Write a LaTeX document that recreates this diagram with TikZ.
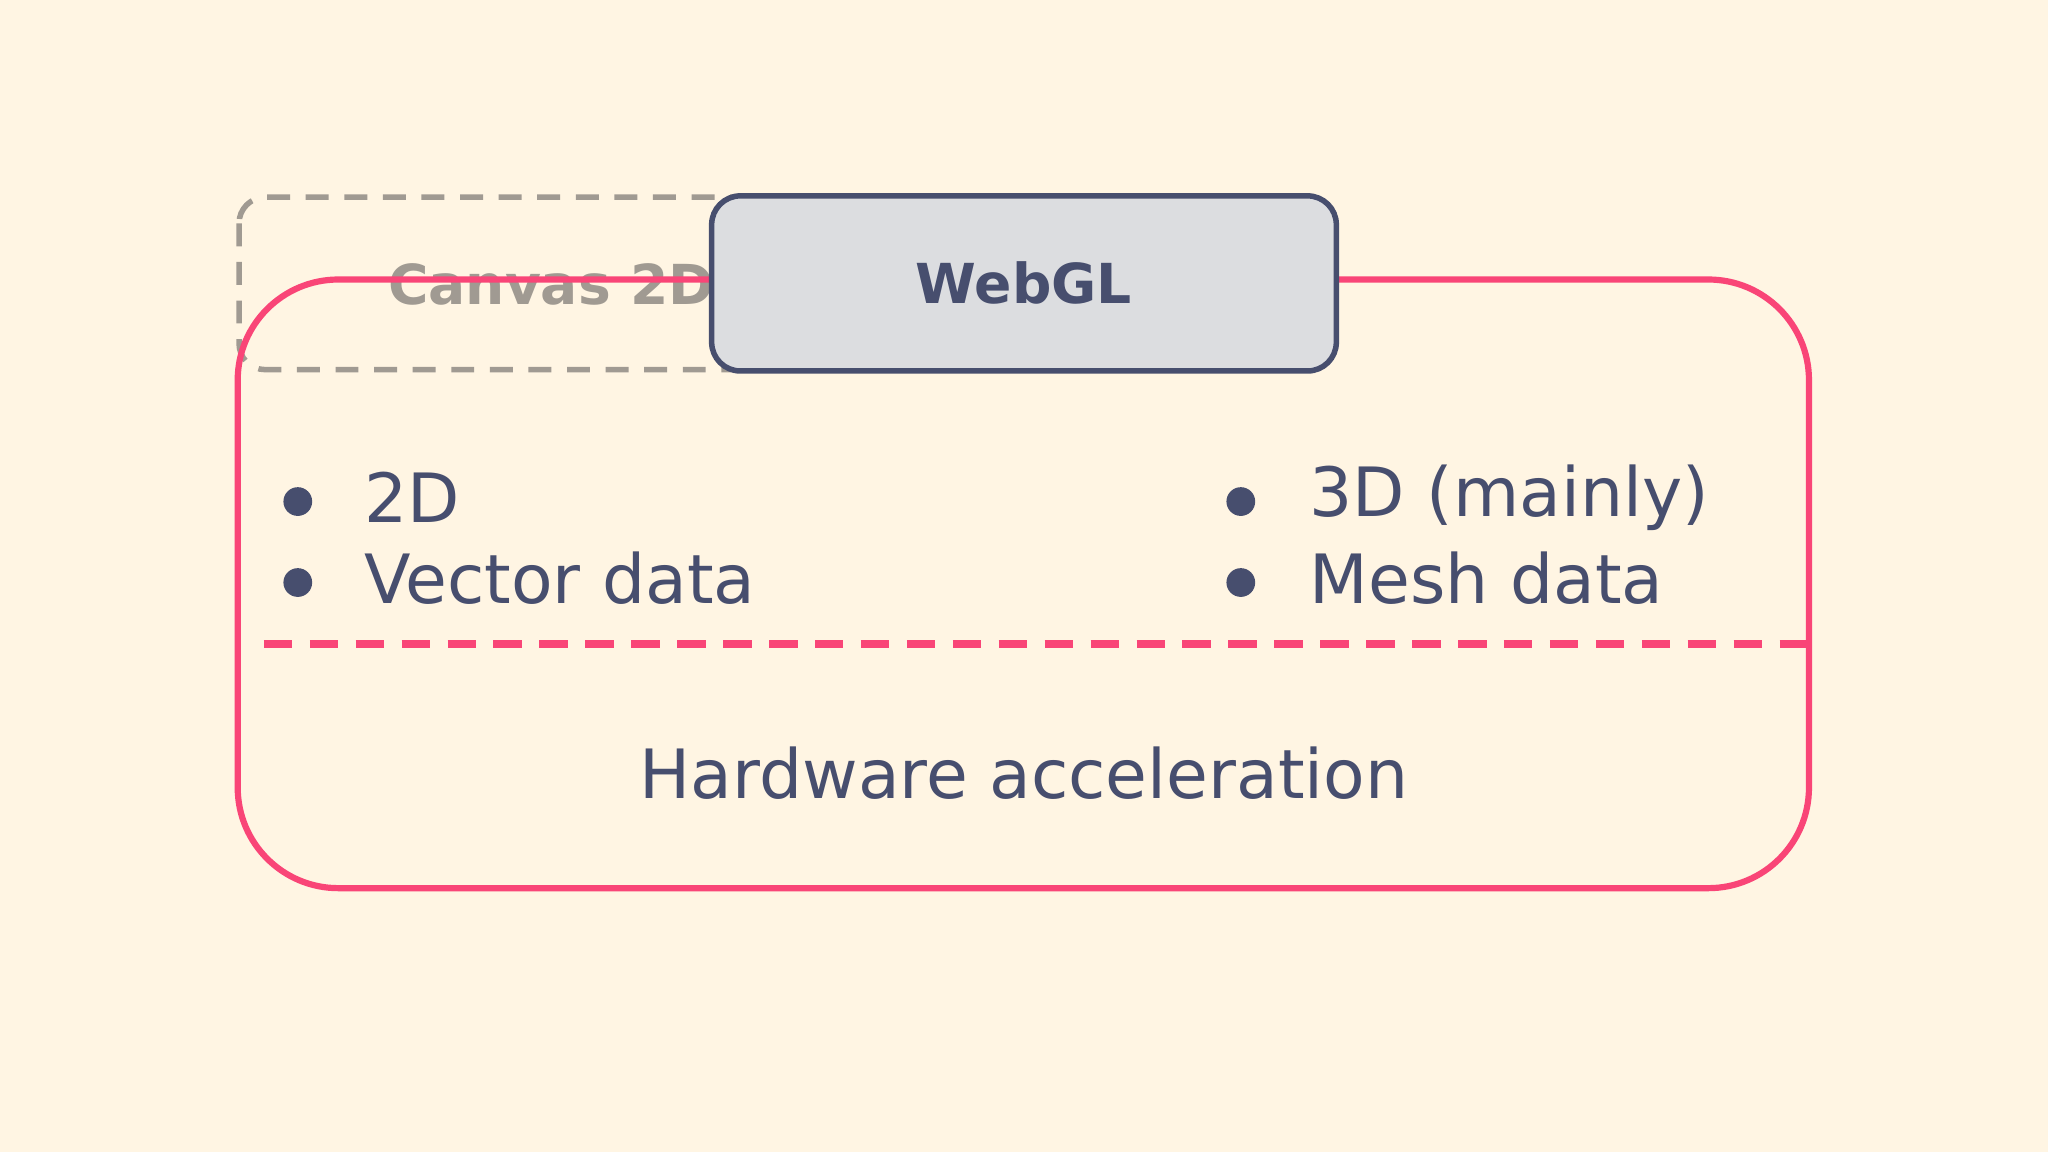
\documentclass[tikz,border=0pt]{standalone}
\usepackage{fontspec}
\setmainfont{DejaVu Sans}
\definecolor{bg}{HTML}{FFF5E3}
\definecolor{pinkc}{HTML}{F94577}
\definecolor{ink}{HTML}{474E6E}
\definecolor{greyc}{HTML}{A09A92}
\definecolor{boxfill}{HTML}{DCDDE0}
\begin{document}
\begin{tikzpicture}[x=0.01cm,y=-0.01cm,
  lbl/.style={text=ink,font=\fontsize{14.8pt}{17pt}\selectfont,anchor=west,inner sep=0},
  dot/.style={circle,fill=ink,minimum size=0.22cm,inner sep=0}]
\fill[bg] (0,0) rectangle (1568,882);
\useasboundingbox (0,0) rectangle (1568,882);
% Canvas 2D (behind)
\draw[greyc,line width=1.2pt,dash pattern=on 5pt off 3.4pt,rounded corners=0.2cm] (183,151) rectangle (640,283);
\node[text=greyc,font=\bfseries\fontsize{12pt}{14pt}\selectfont] (canvas) at (422,218) {Canvas 2D};
% pink container
\draw[pinkc,line width=1.35pt,rounded corners=0.77cm] (182,214) rectangle (1385,680);
% WebGL
\node[draw=ink,fill=boxfill,line width=1.2pt,rounded corners=0.22cm,minimum width=4.78cm,minimum height=1.34cm,
  text=ink,font=\bfseries\fontsize{12pt}{14pt}\selectfont] (webgl) at (784,217) {WebGL};
% bullets
\node[dot] (d1) at (228,384) {};
\node[dot] (d2) at (228,446) {};
\node[dot] (d3) at (950,384) {};
\node[dot] (d4) at (950,446) {};
\node[lbl] (t1) at (278,381) {2D};
\node[lbl] (t2) at (278,443) {Vector data};
\node[lbl] (t3) at (1002,381) {3D (mainly)};
\node[lbl] (t4) at (1002,443) {Mesh data};
% divider
\coordinate (l1) at (202,493);
\coordinate (l2) at (1390,493);
\draw[pinkc,line width=1.8pt,dash pattern=on 6.2pt off 3.8pt] (l1) -- (l2);
\node[text=ink,font=\fontsize{14.8pt}{17pt}\selectfont] (hw) at (784,592) {Hardware acceleration};
\end{tikzpicture}
\end{document}
